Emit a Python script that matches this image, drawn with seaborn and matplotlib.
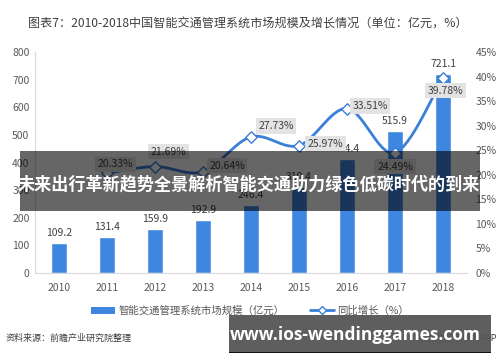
import numpy as np
import pandas as pd
import matplotlib
matplotlib.use("Agg")
import matplotlib.pyplot as plt
import seaborn as sns
from matplotlib.patches import Rectangle, Patch
from matplotlib.lines import Line2D

years = ["2010", "2011", "2012", "2013", "2014", "2015", "2016", "2017", "2018"]
market = [109.2, 131.4, 159.9, 192.9, 246.4, 310.4, 414.4, 515.9, 721.1]
growth_years = ["2011", "2012", "2013", "2014", "2015", "2016", "2017", "2018"]
growth = [20.33, 21.69, 20.64, 27.73, 25.97, 33.51, 24.49, 39.78]
left_ticks = [0, 100, 200, 300, 400, 500, 600, 700, 800]
right_ticks = [0, 5, 10, 15, 20, 25, 30, 35, 40, 45]

title = "图表7：2010-2018中国智能交通管理系统市场规模及增长情况（单位：亿元，%）"
bar_name = "智能交通管理系统市场规模（亿元）"
line_name = "同比增长（%）"
source = "资料来源：前瞻产业研究院整理"
source_right = "@前瞻经济学人APP"
banner = "未来出行革新趋势全景解析智能交通助力绿色低碳时代的到来"
watermark = "www.ios-wendinggames.com"

sns.set_theme(style="white")
plt.rcParams["font.family"] = ["Noto Sans CJK SC", "DejaVu Sans"]

BLUE = "#3f86e0"
LINE = "#3a7fd8"
GRAY = "#595959"

fig = plt.figure(figsize=(5.0, 3.62), dpi=100)
ax = fig.add_axes([0.07, 0.246, 0.864, 0.61])

df = pd.DataFrame({"year": years, "market": market})
sns.barplot(data=df, x="year", y="market", color=BLUE, width=0.32,
            saturation=1, ax=ax, zorder=2)
ax.set_xlim(-0.5, len(years) - 0.5)
ax.set_ylim(0, 800)
ax.set_yticks(left_ticks)
ax.set_xlabel("")
ax.set_ylabel("")
ax.tick_params(axis="both", labelsize=7.5, colors=GRAY, length=0, pad=4)
for lab in ax.get_xticklabels():
    lab.set_y(-0.02)
for s in ["top", "right"]:
    ax.spines[s].set_visible(False)
for s in ["left", "bottom"]:
    ax.spines[s].set_color("#d9d9d9")
    ax.spines[s].set_linewidth(0.8)

for i, v in enumerate(market):
    ax.text(i, v + 18, f"{v:.1f}", ha="center", va="bottom", fontsize=7.5,
            color="#404040", zorder=3)

ax2 = ax.twinx()
ax2.set_ylim(0, 45)
ax2.set_yticks(right_ticks)
ax2.set_yticklabels([f"{t}%" for t in right_ticks])
ax2.tick_params(axis="y", labelsize=7.5, colors=GRAY, length=0, pad=6)
for s in ax2.spines.values():
    s.set_visible(False)

# smoothed (Catmull-Rom style) path through the growth points
xs = np.array([years.index(y) for y in growth_years], dtype=float)
ys = np.array(growth, dtype=float)
P = np.column_stack([xs, ys])
n = len(P)
path = []
t = np.linspace(0, 1, 30)
for i in range(n - 1):
    p0 = P[i - 1] if i > 0 else P[i]
    p1 = P[i]
    p2 = P[i + 1]
    p3 = P[i + 2] if i + 2 < n else P[i + 1]
    b1 = p1 + (p2 - p0) / 6.0
    b2 = p2 - (p3 - p1) / 6.0
    seg = ((1 - t) ** 3)[:, None] * p1 + (3 * (1 - t) ** 2 * t)[:, None] * b1 \
        + (3 * (1 - t) * t ** 2)[:, None] * b2 + (t ** 3)[:, None] * p2
    path.append(seg)
path = np.vstack(path)
ax2.plot(path[:, 0], path[:, 1], color=LINE, lw=2.0, zorder=4)
sns.scatterplot(x=xs, y=ys, marker="D", s=34, facecolor="white",
                edgecolor=LINE, linewidth=1.0, ax=ax2, zorder=5)

offsets = [(0.18, 1.8), (0.28, 3.0), (0.5, 1.2), (0.52, 2.2),
           (0.55, 0.3), (0.48, 0.5), (0.0, -2.8), (0.05, -2.6)]
for (x, y), (dx, dy) in zip(zip(xs, ys), offsets):
    ax2.text(x + dx, y + dy, f"{y:.2f}%", ha="center", va="center",
             fontsize=7.5, color="#404040", zorder=6,
             bbox=dict(boxstyle="square,pad=0.25", fc="#e3e3e3", ec="none"))

handles = [Patch(facecolor=BLUE, edgecolor="none"),
           Line2D([0], [0], color=LINE, lw=2, marker="D", markersize=4,
                  markerfacecolor="white", markeredgecolor=LINE)]
fig.legend(handles, [bar_name, line_name], loc="center",
           bbox_to_anchor=(0.5, 0.141), ncol=2, frameon=False,
           fontsize=7.5, labelcolor=GRAY, handlelength=2.3,
           handleheight=0.8, columnspacing=2.5, handletextpad=0.3)

fig.text(0.496, 1 - 24 / 362, title, ha="center", va="center", fontsize=8.7,
         color="#404040")
fig.text(0.012, 1 - 338 / 362, source, ha="left", va="center", fontsize=6.5,
         color="#404040")
fig.text(0.995, 1 - 338 / 362, source_right, ha="right", va="center",
         fontsize=6.5, color="#404040")

# overlay banner
fig.patches.append(Rectangle((20 / 500, 1 - 211 / 362), 460 / 500, 60 / 362,
                             transform=fig.transFigure, facecolor="black",
                             alpha=0.6, edgecolor="none", zorder=20))
fig.text(0.498, 1 - 184 / 362, banner, ha="center", va="center", fontsize=12.3,
         fontweight="bold", color="white", zorder=21)

# bottom watermark
fig.patches.append(Rectangle((229 / 500, 1 - 352 / 362), 262 / 500, 37 / 362,
                             transform=fig.transFigure, facecolor="#555555",
                             alpha=0.95, edgecolor="none", zorder=20))
fig.patches.append(Rectangle((229 / 500, 1 - 353 / 362), 262 / 500, 1.5 / 362,
                             transform=fig.transFigure, facecolor="#111111",
                             edgecolor="none", zorder=21))
fig.text(355 / 500, 1 - 335 / 362, watermark, ha="center", va="center",
         fontsize=12.5, fontweight="bold", color="white", zorder=22,
         family=["Open Sans", "DejaVu Sans"])

fig.savefig("out.png", dpi=100)
